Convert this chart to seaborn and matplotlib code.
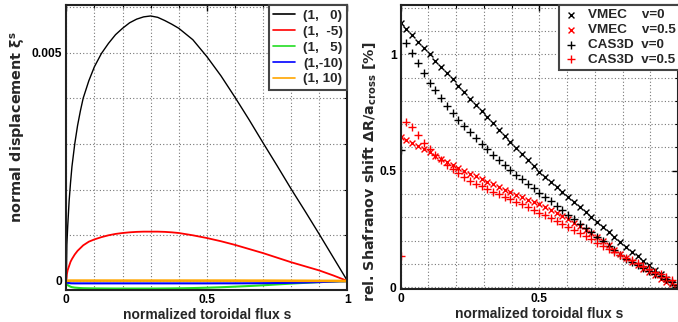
import matplotlib
matplotlib.use("Agg")
import matplotlib.pyplot as plt
import seaborn as sns
import pandas as pd
from matplotlib.ticker import MultipleLocator, FixedLocator

# ---------------- left panel data (normal displacement, units 1e-3) ----------------
s_left = [0, 0.002, 0.005, 0.01, 0.015, 0.02, 0.03, 0.04, 0.05, 0.06, 0.08, 0.1,
          0.125, 0.15, 0.175, 0.2, 0.225, 0.25, 0.275, 0.3, 0.325, 0.35, 0.375, 0.4,
          0.45, 0.5, 0.55, 0.6, 0.65, 0.7, 0.75, 0.8, 0.85, 0.9, 0.95, 1.0]
xi_1_0 = [0.0, 0.8, 1.2, 1.75, 2.15, 2.5, 3.0, 3.4, 3.72, 4.0, 4.38, 4.69,
          4.98, 5.2, 5.39, 5.53, 5.65, 5.73, 5.78, 5.80, 5.77, 5.70, 5.62, 5.53,
          5.28, 4.91, 4.49, 4.02, 3.53, 3.02, 2.52, 2.01, 1.52, 1.02, 0.51, 0.0]
xi_1_m5 = [0.0, 0.15, 0.24, 0.33, 0.42, 0.48, 0.58, 0.66, 0.72, 0.78, 0.86, 0.91,
           0.96, 1.0, 1.03, 1.05, 1.065, 1.075, 1.08, 1.08, 1.08, 1.075, 1.065, 1.05,
           1.0, 0.94, 0.87, 0.79, 0.70, 0.61, 0.51, 0.41, 0.32, 0.23, 0.12, 0.0]
xi_1_5 = [0.0, -0.06, -0.09, -0.11, -0.125, -0.135, -0.145, -0.15, -0.155, -0.158, -0.16, -0.162,
          -0.163, -0.164, -0.165, -0.165, -0.165, -0.165, -0.165, -0.165, -0.164, -0.163, -0.162, -0.16,
          -0.155, -0.147, -0.137, -0.124, -0.11, -0.094, -0.075, -0.057, -0.04, -0.025, -0.012, 0.0]
xi_1_m10 = [0.0, -0.03, -0.04, -0.045, -0.05, -0.051, -0.052, -0.052, -0.052, -0.052, -0.052, -0.052,
            -0.052, -0.052, -0.052, -0.052, -0.052, -0.052, -0.052, -0.052, -0.052, -0.052, -0.052, -0.052,
            -0.052, -0.052, -0.051, -0.051, -0.05, -0.048, -0.045, -0.04, -0.033, -0.024, -0.013, 0.0]
xi_1_10 = [0.0, 0.004, 0.006, 0.007, 0.008, 0.008, 0.008, 0.008, 0.008, 0.008, 0.008, 0.008,
           0.008, 0.008, 0.008, 0.008, 0.008, 0.008, 0.008, 0.008, 0.008, 0.008, 0.008, 0.008,
           0.008, 0.008, 0.008, 0.008, 0.007, 0.007, 0.006, 0.005, 0.004, 0.003, 0.002, 0.0]
mode_labels = ["(1,   0)", "(1,  -5)", "(1,   5)", "(1,-10)", "(1, 10)"]
mode_colors = ["black", "#ff0000", "#22dd22", "#0000ff", "#ffa500"]

# ---------------- right panel data (Shafranov shift, %) ----------------
s_grid = [0, 0.0208, 0.0417, 0.0625, 0.0833, 0.1042, 0.125, 0.1458, 0.1667, 0.1875,
          0.2083, 0.2292, 0.25, 0.2708, 0.2917, 0.3125, 0.3333, 0.3542, 0.375, 0.3958,
          0.4167, 0.4375, 0.4583, 0.4792, 0.5, 0.5208, 0.5417, 0.5625, 0.5833, 0.6042,
          0.625, 0.6458, 0.6667, 0.6875, 0.7083, 0.7292, 0.75, 0.7708, 0.7917, 0.8125,
          0.8333, 0.8542, 0.875, 0.8958, 0.9167, 0.9375, 0.9583, 0.9792, 1.0]
vmec_v0 = [1.136, 1.109, 1.081, 1.054, 1.027, 1.000, 0.973, 0.946, 0.919, 0.892,
           0.864, 0.837, 0.810, 0.783, 0.756, 0.729, 0.703, 0.676, 0.650, 0.623,
           0.597, 0.571, 0.545, 0.520, 0.495, 0.472, 0.450, 0.428, 0.407, 0.386,
           0.365, 0.344, 0.323, 0.302, 0.281, 0.259, 0.237, 0.215, 0.193, 0.173,
           0.153, 0.133, 0.114, 0.094, 0.075, 0.056, 0.037, 0.019, 0.0]
vmec_v05 = [0.646, 0.633, 0.619, 0.606, 0.592, 0.579, 0.565, 0.551, 0.537, 0.523,
            0.510, 0.498, 0.487, 0.476, 0.464, 0.453, 0.442, 0.431, 0.419, 0.408,
            0.397, 0.386, 0.376, 0.365, 0.355, 0.343, 0.330, 0.318, 0.305, 0.292,
            0.277, 0.262, 0.246, 0.231, 0.215, 0.197, 0.179, 0.160, 0.142, 0.125,
            0.109, 0.094, 0.079, 0.063, 0.050, 0.037, 0.024, 0.012, 0.0]
cas3d_v0 = [0.59, 1.047, 1.005, 0.964, 0.920, 0.879, 0.845, 0.812, 0.779, 0.747,
            0.718, 0.692, 0.666, 0.641, 0.615, 0.592, 0.569, 0.547, 0.524, 0.502,
            0.482, 0.463, 0.444, 0.425, 0.405, 0.387, 0.368, 0.349, 0.330, 0.311,
            0.292, 0.273, 0.254, 0.236, 0.217, 0.197, 0.178, 0.158, 0.138, 0.122,
            0.109, 0.096, 0.083, 0.070, 0.058, 0.046, 0.034, 0.022, 0.010]
cas3d_v05 = [0.134, 0.710, 0.688, 0.652, 0.620, 0.594, 0.568, 0.546, 0.526, 0.507,
             0.489, 0.473, 0.458, 0.445, 0.434, 0.422, 0.410, 0.399, 0.388, 0.377,
             0.366, 0.355, 0.343, 0.331, 0.320, 0.308, 0.296, 0.284, 0.272, 0.259,
             0.246, 0.233, 0.219, 0.205, 0.191, 0.177, 0.164, 0.151, 0.139, 0.127,
             0.115, 0.103, 0.091, 0.079, 0.067, 0.055, 0.042, 0.029, 0.015]

# ---------------- style ----------------
sns.set_style("white")
plt.rcParams["font.family"] = ["Liberation Sans", "DejaVu Sans"]
plt.rcParams["font.weight"] = "bold"
plt.rcParams["mathtext.fontset"] = "custom"
plt.rcParams["mathtext.rm"] = "Liberation Sans:bold"
plt.rcParams["mathtext.it"] = "Liberation Sans:bold"
plt.rcParams["mathtext.bf"] = "Liberation Sans:bold"

FS = 9.5
TICK_FS = 8.7
XLAB_FS = 10.0
fig = plt.figure(figsize=(6.78, 3.22), dpi=100)
ax1 = fig.add_axes([0.0978, 0.0994, 0.4147, 0.8851])
ax2 = fig.add_axes([0.591, 0.104, 0.409, 0.8805])

# left panel
rows = []
for lab, vals in zip(mode_labels, [xi_1_0, xi_1_m5, xi_1_5, xi_1_m10, xi_1_10]):
    for s, v in zip(s_left, vals):
        rows.append({"s": s, "xi": v * 1e-3, "mode": lab})
df_left = pd.DataFrame(rows)
sns.lineplot(data=df_left, x="s", y="xi", hue="mode", hue_order=mode_labels,
             palette=mode_colors, estimator=None, sort=False, ax=ax1, linewidth=1.2)
for ln, lw in zip(ax1.lines, [1.0, 1.3, 1.5, 1.5, 1.9]):
    ln.set_linewidth(lw)

ax1.set_xlim(0, 1)
ax1.set_ylim(-0.000197, 0.00604)
ax1.xaxis.set_major_locator(FixedLocator([0, 0.5, 1]))
ax1.xaxis.set_minor_locator(MultipleLocator(0.1))
ax1.yaxis.set_major_locator(FixedLocator([0, 0.005]))
ax1.yaxis.set_minor_locator(MultipleLocator(0.001))
ax1.set_xticklabels(["0", "0.5", "1"])
ax1.set_yticklabels(["0", "0.005"])
ax1.set_xlabel("normalized toroidal flux s", fontsize=XLAB_FS, fontweight="bold",
               labelpad=1.5)
ax1.set_ylabel("normal displacement ξ$^{\\mathregular{s}}$", fontsize=FS,
               fontweight="bold", family=["DejaVu Sans"])
ax1.yaxis.set_label_coords(-0.138, 0.57)
leg1 = ax1.legend(loc="upper right", bbox_to_anchor=(1.0, 1.0), borderaxespad=0,
                  fontsize=FS + 0.2, handlelength=1.6, handletextpad=0.6,
                  labelspacing=0.25, fancybox=False, framealpha=1, borderpad=0.35)
leg1.get_frame().set_edgecolor("#444444")
leg1.get_frame().set_linewidth(1.5)
for t in leg1.get_texts():
    t.set_fontweight("bold")

# right panel
series = [
    ("VMEC    v=0", vmec_v0, "black", "x", 18),
    ("VMEC    v=0.5", vmec_v05, "#ff0000", "x", 18),
    ("CAS3D  v=0", cas3d_v0, "black", "+", 30),
    ("CAS3D  v=0.5", cas3d_v05, "#ff0000", "+", 30),
]
for lab, vals, col, mk, sz in series:
    df = pd.DataFrame({"s": s_grid, "shift": vals})
    sns.scatterplot(data=df, x="s", y="shift", color=col, marker=mk, s=sz,
                    linewidth=1.0, ax=ax2, label=lab, clip_on=True)
ax2.set_xlim(0, 1)
ax2.set_ylim(-0.006, 1.212)
ax2.xaxis.set_major_locator(FixedLocator([0, 0.5]))
ax2.xaxis.set_minor_locator(MultipleLocator(0.1))
ax2.yaxis.set_major_locator(FixedLocator([0, 0.5, 1]))
ax2.yaxis.set_minor_locator(MultipleLocator(0.1))
ax2.set_xticklabels(["0", "0.5"])
ax2.set_yticklabels(["0", "0.5", "1"])
ax2.set_xlabel("normalized toroidal flux s", fontsize=XLAB_FS, fontweight="bold",
               labelpad=1.5)
ax2.set_ylabel("rel. Shafranov shift ΔR/a$_{\\mathregular{cross}}$ [%]", fontsize=FS,
               fontweight="bold", family=["DejaVu Sans"])
ax2.yaxis.set_label_coords(-0.080, 0.413)
leg2 = ax2.legend(loc="upper right", bbox_to_anchor=(1.008, 1.0), borderaxespad=0,
                  fontsize=FS + 0.2, handlelength=1.2, handletextpad=0.7,
                  labelspacing=0.18, fancybox=False, framealpha=1, borderpad=0.3)
leg2.get_frame().set_edgecolor("#444444")
leg2.get_frame().set_linewidth(1.5)
for t in leg2.get_texts():
    t.set_fontweight("bold")

for ax in (ax1, ax2):
    ax.grid(True, which="both", linestyle=(0, (1, 2)), color="#777777", linewidth=0.8)
    ax.set_axisbelow(True)
    ax.tick_params(which="both", direction="in", top=True, right=True,
                   labelsize=TICK_FS, pad=3, colors="black")
    ax.tick_params(which="major", length=4, width=1)
    ax.tick_params(which="minor", length=2.5, width=0.8)
    for lab in ax.get_xticklabels() + ax.get_yticklabels():
        lab.set_fontweight("bold")
    for sp in ax.spines.values():
        sp.set_visible(True)
        sp.set_color("#222222")
        sp.set_linewidth(1.5)

# fit y-axis-label lengths to the reference's pixel lengths
fig.canvas.draw()
rend = fig.canvas.get_renderer()
for lab, target in [(ax1.yaxis.label, 193), (ax2.yaxis.label, 262)]:
    bb = lab.get_window_extent(rend)
    lab.set_fontsize(lab.get_fontsize() * target / bb.height)

fig.savefig("out.png", dpi=100)
